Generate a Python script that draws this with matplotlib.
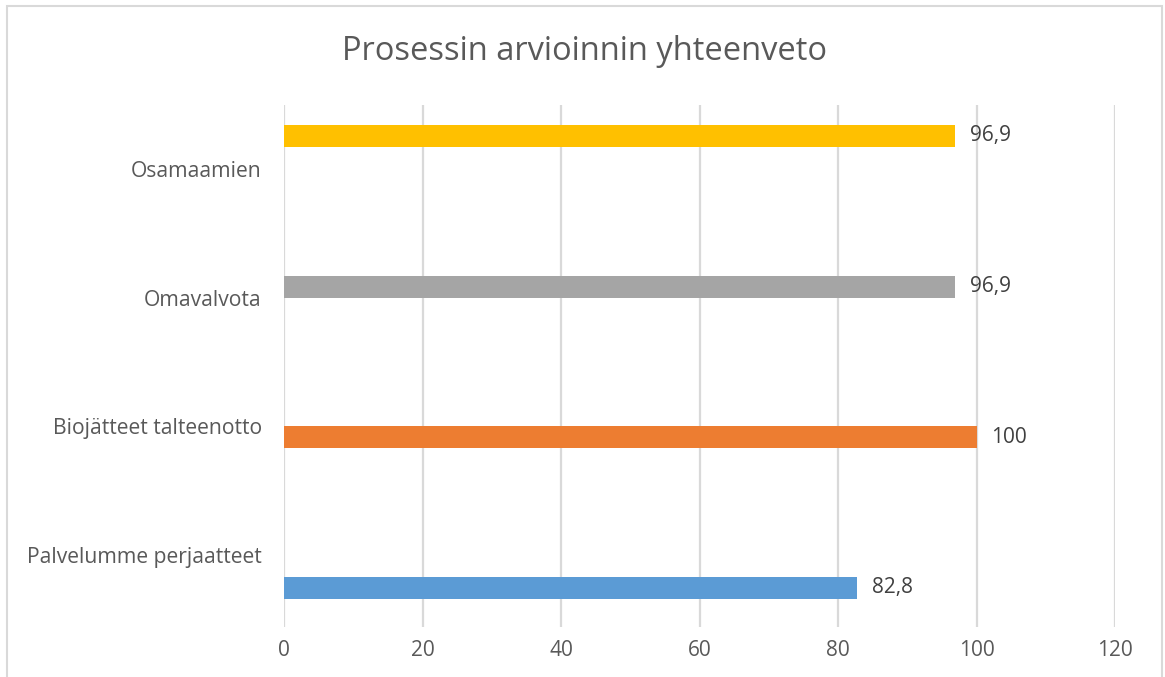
import matplotlib.pyplot as plt
from matplotlib.patches import Rectangle

# === Data ===
categories = ['Palvelumme perjaatteet', 'Biojätteet talteenotto', 'Omavalvota', 'Osamaamien']
values = [82.8, 100, 96.9, 96.9]
value_labels = ['82,8', '100', '96,9', '96,9']
colors = ['#5B9BD5', '#ED7D31', '#A5A5A5', '#FFC000']
xticks = [0, 20, 40, 60, 80, 100, 120]

plt.rcParams['font.family'] = ['Open Sans', 'DejaVu Sans']
text_color = '#595959'

fig = plt.figure(figsize=(11.65, 6.77), dpi=100)
ax = fig.add_axes([284 / 1165, 1 - 627 / 677, 831 / 1165, (627 - 105) / 677])

# Excel-style clustered bars: each series sits at its own slot within the category
bar_h = 0.171
for i, (val, col, lab) in enumerate(zip(values, colors, value_labels)):
    y = i + (i - 1.5) * bar_h
    ax.barh(y, val, height=bar_h, color=col, zorder=3)
    ax.text(val + 2.1, y, lab, va='center', ha='left', fontsize=15, color='#404040')

ax.set_xlim(0, 120)
ax.set_ylim(-0.56, 3.497)
ax.set_xticks(xticks)
ax.set_xticklabels([str(t) for t in xticks], fontsize=15, color=text_color)
ax.set_yticks(range(len(categories)))
ax.set_yticklabels(categories, fontsize=15.2, color=text_color)
ax.tick_params(axis='x', length=0, pad=9)
ax.tick_params(axis='y', length=0, pad=16)

ax.grid(axis='x', color='#D9D9D9', linewidth=1.6, zorder=0)
for s in ax.spines.values():
    s.set_visible(False)

fig.text(585 / 1165, 1 - 51 / 677, 'Prosessin arvioinnin yhteenveto', ha='center', va='center',
         fontsize=23.5, color=text_color)

# light chart frame
fig.patches.append(Rectangle((7 / 1165, -0.05), 1155 / 1165, 1.05 - 6 / 677, transform=fig.transFigure,
                             fill=False, edgecolor='#D9D9D9', linewidth=1.5))

plt.savefig('out.png', dpi=100)
